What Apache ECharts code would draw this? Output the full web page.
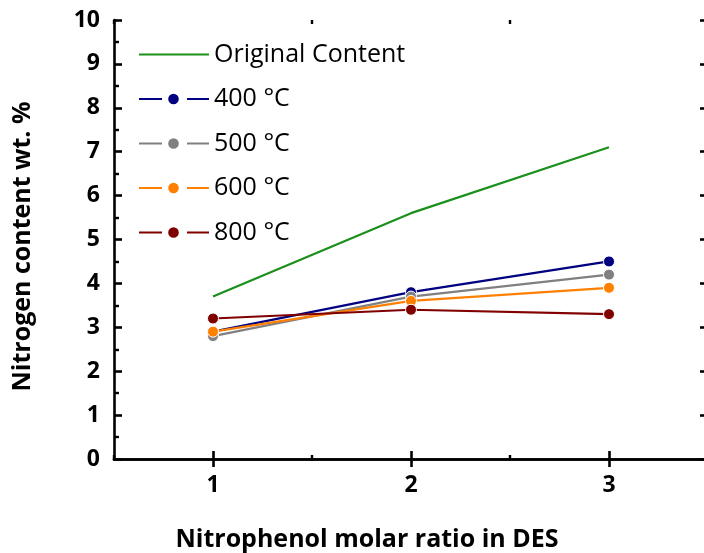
<!DOCTYPE html>
<html>
<head>
<meta charset="utf-8">
<script src="https://cdn.jsdelivr.net/npm/echarts@6/dist/echarts.min.js"></script>
<style>html,body{margin:0;padding:0;background:#fff}#c{width:704px;height:553px}</style>
</head>
<body>
<div id="c"></div>
<script>
const categories = ['1', '2', '3'];
const originalContent = [3.7, 5.6, 7.1];
const t400 = [2.9, 3.8, 4.5];
const t500 = [2.8, 3.7, 4.2];
const t600 = [2.9, 3.6, 3.9];
const t800 = [3.2, 3.4, 3.3];
const seriesNames = ['Original Content', '400 °C', '500 °C', '600 °C', '800 °C'];
const seriesColors = ['#1b8f1b', '#000080', '#808080', '#ff8000', '#800000'];
const yMin = 0, yMax = 10, yStep = 1;

const FONT = '"Open Sans"';
const lineIcon = 'path://M0,5H70V7H0Z';
const dotIcon = 'path://M0,5H23V7H0Z M48,5H70V7H48Z M29.2,6A5.3,5.3 0 1,0 39.8,6A5.3,5.3 0 1,0 29.2,6Z';

const chart = echarts.init(document.getElementById('c'), null, {renderer: 'canvas'});
const axisLineStyle = {color: '#000', width: 2.6};
const gridBox = {left: 114, top: 20, width: 594, bottom: 94, outerBoundsMode: 'none', containLabel: false};

const majorX = (pos) => ({
  type: 'category', data: categories, gridIndex: 0, position: pos, boundaryGap: true,
  axisLine: {show: true, lineStyle: axisLineStyle},
  axisTick: {show: true, inside: true, alignWithLabel: true, length: 8, lineStyle: {color: '#000', width: 2.6}},
  axisLabel: {show: pos === 'bottom', margin: 15, fontSize: 23, fontWeight: 'bold', color: '#000', fontFamily: FONT},
  splitLine: {show: false}
});
const minorX = (pos) => ({
  type: 'category', data: categories, gridIndex: 1, position: pos, boundaryGap: true,
  axisLine: {show: false},
  axisTick: {show: true, inside: true, alignWithLabel: false, length: 4, lineStyle: {color: '#000', width: 2.4}},
  axisLabel: {show: false},
  splitLine: {show: false}
});

const xBottom = majorX('bottom');
xBottom.name = 'Nitrophenol molar ratio in DES';
xBottom.nameLocation = 'middle';
xBottom.nameGap = 68;
xBottom.nameTextStyle = {fontSize: 25, fontWeight: 'bold', color: '#000', fontFamily: FONT, padding: [0, 88, 0, 0]};

const option = {
  backgroundColor: '#fff',
  animation: false,
  grid: [Object.assign({}, gridBox), Object.assign({}, gridBox)],
  xAxis: [xBottom, majorX('top'), minorX('bottom'), minorX('top')],
  yAxis: [
    {
      type: 'value', gridIndex: 0, position: 'left', min: yMin, max: yMax, interval: yStep,
      name: 'Nitrogen content wt. %', nameLocation: 'middle', nameGap: 79,
      nameTextStyle: {fontSize: 25, fontWeight: 'bold', color: '#000', fontFamily: FONT, padding: [0, 14, 0, 0]},
      axisLine: {show: true, lineStyle: axisLineStyle},
      axisTick: {show: true, inside: true, length: 8, lineStyle: {color: '#000', width: 2.6}},
      minorTick: {show: true, splitNumber: 2, length: 5, lineStyle: {color: '#000', width: 2.4}},
      axisLabel: {margin: 14, fontSize: 23, fontWeight: 'bold', color: '#000', fontFamily: FONT},
      splitLine: {show: false}, minorSplitLine: {show: false}
    },
    {
      type: 'value', gridIndex: 0, position: 'right', min: yMin, max: yMax, interval: yStep,
      axisLine: {show: true, lineStyle: axisLineStyle},
      axisTick: {show: true, inside: true, length: 8, lineStyle: {color: '#000', width: 2.6}},
      axisLabel: {show: false},
      splitLine: {show: false}
    },
    {type: 'value', gridIndex: 1, min: yMin, max: yMax, show: false}
  ],
  legend: {
    orient: 'vertical', left: 134, top: 37, itemWidth: 70, itemHeight: 12, itemGap: 19.5,
    textStyle: {fontSize: 25, color: '#000', fontFamily: FONT},
    itemStyle: {borderWidth: 0},
    data: seriesNames.map((n, i) => ({name: n, icon: i === 0 ? lineIcon : dotIcon}))
  },
  series: [originalContent, t400, t500, t600, t800].map((d, i) => ({
    name: seriesNames[i], type: 'line', xAxisIndex: 0, yAxisIndex: 0, data: d,
    symbol: i === 0 ? 'none' : 'circle', symbolSize: 11,
    lineStyle: {color: seriesColors[i], width: 2.2},
    itemStyle: {color: seriesColors[i], borderColor: '#fff', borderWidth: 1}
  }))
};
chart.setOption(option);
</script>
</body>
</html>
